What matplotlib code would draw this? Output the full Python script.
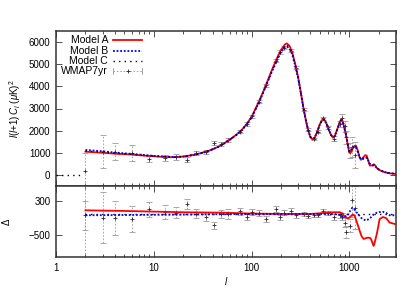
import numpy as np
import matplotlib
matplotlib.use('Agg')
import matplotlib.pyplot as plt

plt.rcParams['font.family'] = ['Liberation Sans', 'DejaVu Sans']
plt.rcParams['font.size'] = 7
plt.rcParams['mathtext.fontset'] = 'custom'
plt.rcParams['mathtext.rm'] = 'Liberation Sans'
plt.rcParams['mathtext.it'] = 'Liberation Sans:italic'

# model spectra, D_l = l(l+1)C_l/2pi in uK^2
l_model = [2, 3, 4, 6, 8, 10, 13, 16, 20, 25, 30, 37, 45, 50, 60, 70, 80, 90, 100,
           120, 140, 160, 180, 200, 220, 230, 245, 260, 280, 300, 320, 340, 360, 380,
           400, 420, 440, 470, 500, 530, 550, 580, 610, 650, 680, 710, 750, 800, 830,
           850, 880, 920, 960, 1000, 1030, 1080, 1130, 1170, 1220, 1270, 1316, 1380,
           1450, 1500, 1560, 1620, 1700, 1780, 1830, 1900, 2000, 2100, 2300, 2600, 3000]
model_a = [1050, 1000, 960, 920, 870, 840, 810, 800, 830, 900, 980, 1100, 1260, 1370,
           1600, 1820, 2050, 2330, 2620, 3350, 4050, 4700, 5230, 5650, 5900, 5940, 5820,
           5550, 5000, 4400, 3700, 3000, 2450, 2000, 1700, 1600, 1650, 1950, 2300, 2500,
           2520, 2350, 2080, 1800, 1680, 1750, 2050, 2400, 2520, 2450, 2200, 1850, 1400,
           1000, 990, 1180, 1310, 1320, 1100, 800, 680, 780, 890, 880, 650, 420, 430,
           480, 440, 320, 240, 190, 120, 70, 45]
model_b = [1130, 1070, 1010, 950, 900, 860, 830, 810, 830, 890, 970, 1090, 1250, 1360,
           1590, 1800, 2030, 2300, 2590, 3300, 4000, 4620, 5130, 5550, 5780, 5800, 5700,
           5450, 4920, 4340, 3660, 2980, 2440, 2010, 1720, 1630, 1680, 1960, 2290, 2480,
           2500, 2340, 2080, 1810, 1700, 1760, 2040, 2380, 2480, 2420, 2180, 1850, 1430,
           1050, 1080, 1250, 1290, 1230, 1050, 820, 700, 720, 780, 780, 650, 500, 430,
           420, 400, 330, 250, 200, 130, 80, 50]
model_c = [1080, 1030, 980, 930, 880, 850, 820, 805, 830, 895, 975, 1095, 1255, 1365,
           1595, 1810, 2040, 2310, 2600, 3320, 4020, 4660, 5180, 5600, 5830, 5860, 5760,
           5500, 4960, 4370, 3680, 2990, 2445, 2005, 1710, 1615, 1665, 1955, 2295, 2490,
           2510, 2345, 2080, 1805, 1690, 1755, 2045, 2390, 2500, 2435, 2190, 1850, 1415,
           1030, 1040, 1210, 1300, 1270, 1070, 810, 690, 750, 830, 830, 650, 470, 430,
           450, 420, 325, 245, 195, 125, 75, 48]
# model C monopole/dipole part (zero below l=2)
l_c_low = [1, 1.9]
model_c_low = [0, 0]

# model residuals (lower panel)
l_resid = [2, 5, 10, 20, 50, 100, 200, 400, 600, 700, 800, 860, 893, 967, 985, 1071,
           1130, 1225, 1324, 1355, 1400, 1490, 1550, 1640, 1676, 1770, 1800, 1915,
           2040, 2205, 2390, 2580, 3000]
resid_a = [85, 70, 55, 40, 30, 10, 0, 0, 30, 40, 40, 0, -70, -100, -100, -20, -30,
           -270, -500, -540, -580, -560, -550, -560, -600, -740, -700, -450, -120, -70,
           -100, -200, -240]
resid_b = [-30, -25, -20, -15, -5, 0, 0, 0, 0, 0, -20, -70, -60, -30, 20, 145, 100, 0,
           -90, -110, -130, -150, -130, -90, -70, -10, 0, 30, 45, 50, 20, -30, -30]

# WMAP 7-year band powers
l_wmap = [2, 3, 4, 6, 9, 13, 17, 22, 27, 34, 41, 49, 57, 76, 90, 101, 120, 141, 176,
          196, 217, 254, 286, 341, 378, 431, 477, 537, 604, 689, 794, 839, 893, 929,
          1005, 1071, 1130]
d_wmap = [180, 1050, 1050, 980, 740, 770, 820, 690, 980, 1050, 1440, 1400, 1580, 1950,
          2300, 2650, 3300, 4050, 5150, 5550, 5750, 5600, 4850, 2950, 2050, 1620, 1950,
          2550, 2150, 1640, 2300, 2550, 2200, 1700, 1100, 1250, 900]
d_err = [820, 750, 390, 350, 170, 150, 130, 110, 100, 90, 90, 80, 80, 70, 70, 70, 70,
         70, 70, 70, 70, 70, 70, 60, 60, 60, 60, 70, 70, 100, 150, 200, 250, 300, 350,
         450, 600]
delta_wmap = [-30, -90, -90, -110, 105, 50, 30, 235, 0, -60, -260, 0, 0, 60, -70, 45,
              30, -120, 105, -80, 30, 70, -30, 0, -40, -30, -30, 70, 20, -70, -30, -60,
              -200, -420, -270, 330, 150]
delta_err = [340, 590, 390, 300, 165, 165, 135, 115, 105, 100, 80, 95, 120, 85, 80, 80,
             70, 70, 70, 65, 60, 60, 55, 50, 50, 45, 45, 50, 55, 60, 70, 90, 110, 130,
             150, 400, 500]
quad_l = [2]
quad_delta = [-200]
quad_err = [1200]

red = '#ff0000'
blue = '#0000ff'
grey = '#9a9a9a'
mark = '#2a2a2a'
frame = '#333333'

fig = plt.figure(figsize=(4.15, 2.91), dpi=100)
ax1 = fig.add_axes([56 / 415, (291 - 186) / 291, 340 / 415, 155 / 291])
ax2 = fig.add_axes([56 / 415, (291 - 257) / 291, 340 / 415, 71 / 291])

# upper panel
ax1.errorbar(l_wmap, d_wmap, yerr=d_err, fmt='none', ecolor=grey, elinewidth=0.6,
             capsize=2, capthick=0.6)
for c in ax1.containers:
    for lc in c.lines[2]:
        lc.set_linestyle((0, (2, 2)))
ax1.plot(l_wmap, d_wmap, '+', color=mark, ms=3.5, mew=0.6, zorder=4)
ax1.plot(l_model, model_a, color=red, lw=1.3, zorder=5)
ax1.plot(l_model, model_b, color=blue, lw=1.3, ls=(0, (1, 1)), zorder=6)
ax1.plot(l_model, model_c, color='black', lw=1.0, ls=(0, (1, 3)), zorder=7)
ax1.plot(l_c_low, model_c_low, color='black', lw=1.0, ls=(0, (1, 3)), zorder=7)

ax1.set_xscale('log')
ax1.set_xlim(1, 3000)
ax1.set_ylim(-500, 6500)
ax1.set_yticks([0, 1000, 2000, 3000, 4000, 5000, 6000])
ax1.tick_params(labelbottom=False)
ax1.set_ylabel(r'$l(l$+1$)\,C_l$ ($\mu$K)$^2$', labelpad=4)

# legend drawn by hand, gnuplot style
tx, x0, x1 = 0.153, 0.168, 0.253
rows = [0.942, 0.873, 0.806, 0.740]
labels = ['Model A', 'Model B', 'Model C', 'WMAP7yr']
for y, lab in zip(rows, labels):
    ax1.text(tx, y, lab, transform=ax1.transAxes, ha='right', va='center', fontsize=7.5)
ax1.plot([x0, x1], [rows[0]] * 2, color=red, lw=1.3, transform=ax1.transAxes)
ax1.plot([x0, x1], [rows[1]] * 2, color=blue, lw=1.3, ls=(0, (1, 1)), transform=ax1.transAxes)
ax1.plot([x0, x1], [rows[2]] * 2, color='black', lw=1.0, ls=(0, (1, 3)), transform=ax1.transAxes)
ax1.plot([x0, x1], [rows[3]] * 2, color=grey, lw=0.6, ls=(0, (2, 2)), transform=ax1.transAxes)
for xe in (x0, x1):
    ax1.plot([xe, xe], [rows[3] - 0.02, rows[3] + 0.02], color=grey, lw=0.6,
             transform=ax1.transAxes)
ax1.plot([(x0 + x1) / 2], [rows[3]], '+', color=mark, ms=3.5, mew=0.6,
         transform=ax1.transAxes)

# lower panel
ax2.errorbar(l_wmap, delta_wmap, yerr=delta_err, fmt='none', ecolor=grey,
             elinewidth=0.6, capsize=2, capthick=0.6)
ax2.errorbar(quad_l, quad_delta, yerr=quad_err, fmt='none', ecolor=grey,
             elinewidth=0.6, capsize=0)
for c in ax2.containers:
    for lc in c.lines[2]:
        lc.set_linestyle((0, (2, 2)))
ax2.plot(l_wmap, delta_wmap, '+', color=mark, ms=3.5, mew=0.6, zorder=4)
ax2.plot(l_resid, resid_a, color=red, lw=1.3, zorder=5)
ax2.plot(l_resid, resid_b, color=blue, lw=1.3, ls=(0, (1, 1)), zorder=6)
ax2.plot([2, 3000], [0, 0], color='black', lw=1.0, ls=(0, (1, 3)), zorder=3)

ax2.set_xscale('log')
ax2.set_xlim(1, 3000)
ax2.set_ylim(-1000, 650)
ax2.set_yticks([300, -500])
ax2.set_xticks([1, 10, 100, 1000])
ax2.set_xticklabels(['1', '10', '100', '1000'])
ax2.set_xlabel(r'$l$', labelpad=2)
ax2.set_ylabel(r'$\Delta$', labelpad=12)

for ax in (ax1, ax2):
    for s in ax.spines.values():
        s.set_color(frame)
        s.set_linewidth(1.1)
    ax.tick_params(which='both', direction='in', top=True, right=True, color=frame,
                   width=0.6)
    ax.tick_params(which='major', length=4, pad=4)
    ax.tick_params(which='minor', length=2)

fig.savefig('out.png', dpi=100)
